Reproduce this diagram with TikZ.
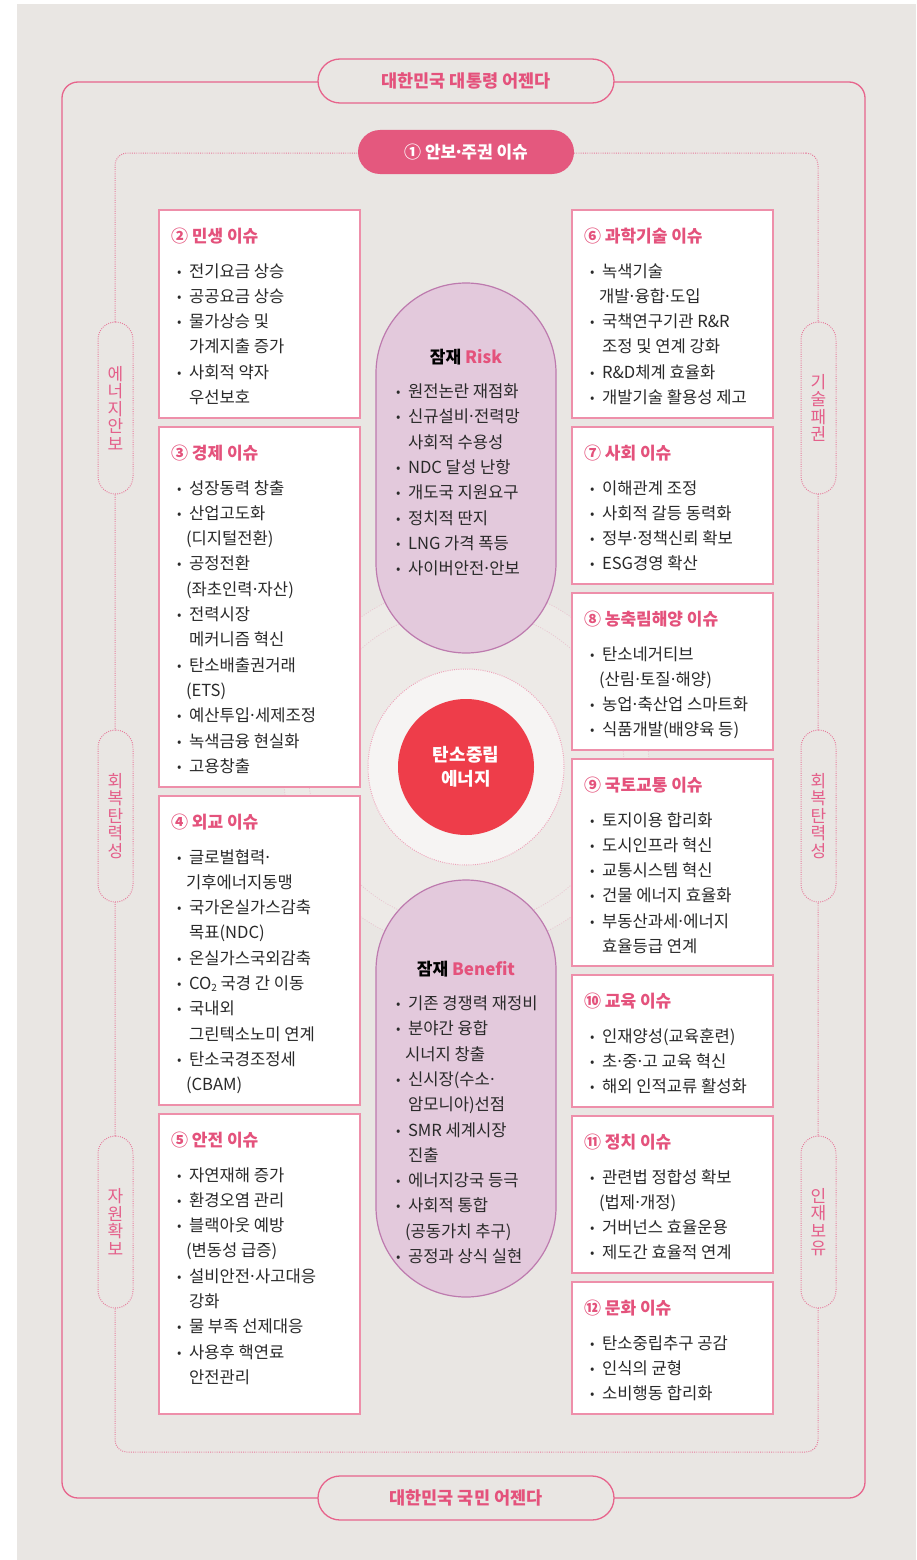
\documentclass[tikz,border=0pt]{standalone}
\usepackage{fontspec}
\setmainfont{Noto Sans CJK KR}
\newfontfamily\kr{Noto Sans CJK KR}
\definecolor{bg}{HTML}{E9E6E3}
\definecolor{pinkline}{HTML}{E7648C}
\definecolor{pinktext}{HTML}{E4527C}
\definecolor{boxborder}{HTML}{EE8FAA}
\definecolor{dotpink}{HTML}{E77A9B}
\definecolor{txt}{HTML}{2A2A2A}
\definecolor{riskfill}{HTML}{E3C9DC}
\definecolor{riskborder}{HTML}{BD7AAE}
\definecolor{corered}{HTML}{EE3D4A}
\definecolor{whitec}{HTML}{F6F4F3}
\definecolor{pillfill}{HTML}{E4587E}
\definecolor{sidetext}{HTML}{E45F8A}
\definecolor{faintpink}{HTML}{E9C6D1}
\definecolor{lightbg}{HTML}{EDEAE7}
\newcommand\lns[1]{\begin{tabular}[t]{@{}l@{}}#1\end{tabular}}
\newcommand\bl[1]{\makebox[12pt][l]{\raisebox{1pt}{\fontsize{13}{13}\selectfont •}}#1}
\newcommand\cn[1]{\hspace*{12pt}#1}
\newcommand\pn[1]{\hspace*{9pt}#1}
\newcommand\md{\hbox to 5pt{\hss·\hss}}
\tikzset{
  every node/.style={inner sep=0pt, outer sep=0pt},
  issuebox/.style={draw=boxborder, line width=1.3pt, fill=white, anchor=north west, minimum width=201pt},
  ttl/.style={anchor=base west, text=pinktext, font=\kr\bfseries\fontsize{17}{20}\selectfont},
  body/.style={anchor=base west, text=txt, font=\kr\fontsize{16.6}{25.3}\selectfont},
  agenda/.style={draw=pinkline, line width=1.3pt, fill=bg, rounded corners=22pt, minimum width=296pt, minimum height=44pt, text=pinktext, font=\kr\bfseries\fontsize{17.5}{20}\selectfont},
  sidepill/.style={draw=dotpink, line width=1pt, dash pattern=on 0.9pt off 1.3pt, fill=bg, rounded corners=17.5pt, minimum width=35pt, minimum height=172pt},
  sidetxt/.style={align=center, text=sidetext, font=\kr\fontsize{17}{17.5}\selectfont},
  potpill/.style={draw=riskborder, line width=1.2pt, fill=riskfill, rounded corners=90pt, minimum width=180pt},
  pottitle/.style={anchor=base, text=black, font=\kr\bfseries\fontsize{17}{20}\selectfont},
}
\begin{document}
\begin{tikzpicture}[x=1pt,y=-1pt]
\useasboundingbox (0,0) rectangle (916,1560);
\fill[white] (0,0) rectangle (916,1560);
\fill[bg] (17,4) rectangle (916,1560);

% faint rings
\node[circle, minimum size=366pt, draw=faintpink, line width=0.8pt, dash pattern=on 1pt off 1.5pt, fill=lightbg] (ring2) at (466,767) {};
\node[circle, minimum size=316pt, draw=faintpink, line width=0.8pt, dash pattern=on 1pt off 1.5pt] (ring1) at (466,767) {};

% frames
\node[draw=pinkline, line width=1.3pt, rounded corners=16pt, minimum width=803pt, minimum height=1416pt, anchor=north west] (outer) at (62,82) {};
\node[draw=dotpink, line width=1pt, dash pattern=on 0.9pt off 1.3pt, rounded corners=12pt, minimum width=703pt, minimum height=1299pt, anchor=north west] (inner) at (115,153) {};

% agenda pills
\node[agenda] (top) at (466,81) {대한민국 대통령 어젠다};
\node[agenda] (bottom) at (466,1498) {대한민국 국민 어젠다};
\node[fill=pillfill, rounded corners=22pt, minimum width=216pt, minimum height=44pt, text=white, font=\kr\bfseries\fontsize{17}{20}\selectfont] (sec) at (466,152) {① 안보\md 주권 이슈};

% side pills
\node[sidepill] (sL1) at (115.5,408) {};
\node[sidetxt] at (sL1) {에\\너\\지\\안\\보};
\node[sidepill] (sL2) at (115.5,816) {};
\node[sidetxt] at (sL2) {회\\복\\탄\\력\\성};
\node[sidepill] (sL3) at (115.5,1222) {};
\node[sidetxt] at (sL3) {자\\원\\확\\보};
\node[sidepill] (sR1) at (818.5,408) {};
\node[sidetxt] at (sR1) {기\\술\\패\\권};
\node[sidepill] (sR2) at (818.5,816) {};
\node[sidetxt] at (sR2) {회\\복\\탄\\력\\성};
\node[sidepill] (sR3) at (818.5,1222) {};
\node[sidetxt] at (sR3) {인\\재\\보\\유};

% left boxes
\node[issuebox, minimum height=208pt] (b2) at (159,210) {};
\node[ttl] (t2) at (171,242) {② 민생 이슈};
\node[body] (l2) at (177,277) {\lns{\bl{전기요금 상승}\\ \bl{공공요금 상승}\\ \bl{물가상승 및}\\ \cn{가계지출 증가}\\ \bl{사회적 약자}\\ \cn{우선보호}}};

\node[issuebox, minimum height=360pt] (b3) at (159,427) {};
\node[ttl] (t3) at (171,459) {③ 경제 이슈};
\node[body] (l3) at (177,494) {\lns{\bl{성장동력 창출}\\ \bl{산업고도화}\\ \pn{(디지털전환)}\\ \bl{공정전환}\\ \pn{(좌초인력\md 자산)}\\ \bl{전력시장}\\ \cn{메커니즘 혁신}\\ \bl{탄소배출권거래}\\ \pn{(ETS)}\\ \bl{예산투입\md 세제조정}\\ \bl{녹색금융 현실화}\\ \bl{고용창출}}};

\node[issuebox, minimum height=309pt] (b4) at (159,796) {};
\node[ttl] (t4) at (171,828) {④ 외교 이슈};
\node[body] (l4) at (177,863) {\lns{\bl{글로벌협력\md}\\ \pn{기후에너지동맹}\\ \bl{국가온실가스감축}\\ \cn{목표(NDC)}\\ \bl{온실가스국외감축}\\ \bl{CO\raisebox{-2pt}{\fontsize{10}{10}\selectfont 2} 국경 간 이동}\\ \bl{국내외}\\ \cn{그린텍소노미 연계}\\ \bl{탄소국경조정세}\\ \pn{(CBAM)}}};

\node[issuebox, minimum height=300pt] (b5) at (159,1114) {};
\node[ttl] (t5) at (171,1146) {⑤ 안전 이슈};
\node[body] (l5) at (177,1181) {\lns{\bl{자연재해 증가}\\ \bl{환경오염 관리}\\ \bl{블랙아웃 예방}\\ \pn{(변동성 급증)}\\ \bl{설비안전\md 사고대응}\\ \cn{강화}\\ \bl{물 부족 선제대응}\\ \bl{사용후 핵연료}\\ \cn{안전관리}}};

% right boxes
\node[issuebox, minimum height=208pt] (b6) at (572,210) {};
\node[ttl] (t6) at (584,242) {⑥ 과학기술 이슈};
\node[body] (l6) at (590,277) {\lns{\bl{녹색기술}\\ \pn{개발\md 융합\md 도입}\\ \bl{국책연구기관 R\&R}\\ \cn{조정 및 연계 강화}\\ \bl{R\&D체계 효율화}\\ \bl{개발기술 활용성 제고}}};

\node[issuebox, minimum height=157pt] (b7) at (572,427) {};
\node[ttl] (t7) at (584,459) {⑦ 사회 이슈};
\node[body] (l7) at (590,494) {\lns{\bl{이해관계 조정}\\ \bl{사회적 갈등 동력화}\\ \bl{정부\md 정책신뢰 확보}\\ \bl{ESG경영 확산}}};

\node[issuebox, minimum height=157pt] (b8) at (572,593) {};
\node[ttl] (t8) at (584,625) {⑧ 농축림해양 이슈};
\node[body] (l8) at (590,660) {\lns{\bl{탄소네거티브}\\ \pn{(산림\md 토질\md 해양)}\\ \bl{농업\md 축산업 스마트화}\\ \bl{식품개발(배양육 등)}}};

\node[issuebox, minimum height=207pt] (b9) at (572,759) {};
\node[ttl] (t9) at (584,791) {⑨ 국토교통 이슈};
\node[body] (l9) at (590,826) {\lns{\bl{토지이용 합리화}\\ \bl{도시인프라 혁신}\\ \bl{교통시스템 혁신}\\ \bl{건물 에너지 효율화}\\ \bl{부동산과세\md 에너지}\\ \cn{효율등급 연계}}};

\node[issuebox, minimum height=132pt] (b10) at (572,975) {};
\node[ttl] (t10) at (584,1007) {⑩ 교육 이슈};
\node[body] (l10) at (590,1042) {\lns{\bl{인재양성(교육훈련)}\\ \bl{초\md 중\md 고 교육 혁신}\\ \bl{해외 인적교류 활성화}}};

\node[issuebox, minimum height=157pt] (b11) at (572,1116) {};
\node[ttl] (t11) at (584,1148) {⑪ 정치 이슈};
\node[body] (l11) at (590,1183) {\lns{\bl{관련법 정합성 확보}\\ \pn{(법제\md 개정)}\\ \bl{거버넌스 효율운용}\\ \bl{제도간 효율적 연계}}};

\node[issuebox, minimum height=132pt] (b12) at (572,1282) {};
\node[ttl] (t12) at (584,1314) {⑫ 문화 이슈};
\node[body] (l12) at (590,1349) {\lns{\bl{탄소중립추구 공감}\\ \bl{인식의 균형}\\ \bl{소비행동 합리화}}};

% risk / benefit pills
\node[potpill, minimum height=370pt] (risk) at (466,468) {};
\node[pottitle] (riskt) at (466,363) {잠재 \textcolor{pinktext}{Risk}};
\node[body] (riskl) at (396,397.5) {\lns{\bl{원전논란 재점화}\\ \bl{신규설비\md 전력망}\\ \cn{사회적 수용성}\\ \bl{NDC 달성 난항}\\ \bl{개도국 지원요구}\\ \bl{정치적 딴지}\\ \bl{LNG 가격 폭등}\\ \bl{사이버안전\md 안보}}};

\node[potpill, minimum height=417pt] (benefit) at (466,1088.5) {};
\node[pottitle] (benet) at (466,975) {잠재 \textcolor{pinktext}{Benefit}};
\node[body] (benel) at (396,1009.5) {\lns{\bl{기존 경쟁력 재정비}\\ \bl{분야간 융합}\\ \pn{시너지 창출}\\ \bl{신시장(수소\md}\\ \cn{암모니아)선점}\\ \bl{SMR 세계시장}\\ \cn{진출}\\ \bl{에너지강국 등극}\\ \bl{사회적 통합}\\ \pn{(공동가치 추구)}\\ \bl{공정과 상식 실현}}};

% core
\node[circle, minimum size=196pt, fill=whitec, draw=dotpink!70, line width=1pt, dash pattern=on 0.9pt off 1.3pt] (halo) at (466,767) {};
\node[circle, minimum size=136pt, fill=corered] (core) at (466,767) {};
\node[align=center, text=white, font=\kr\bfseries\fontsize{18}{24}\selectfont] (coret) at (core) {탄소중립\\에너지};
\end{tikzpicture}
\end{document}
